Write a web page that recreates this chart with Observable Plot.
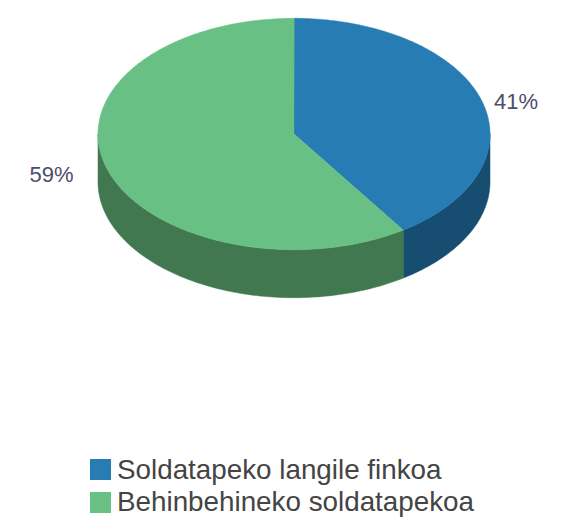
<!DOCTYPE html>
<html>
<head>
<meta charset="utf-8">
<script src="https://cdn.jsdelivr.net/npm/d3@7"></script>
<script src="https://cdn.jsdelivr.net/npm/@observablehq/plot@0.6"></script>
<style>
  html, body { margin: 0; padding: 0; background: #fff; }
  body { width: 566px; overflow: hidden; }
  svg { display: block; }
  #legend { margin-left: 90px; font-family: "Liberation Sans", Arial, sans-serif; font-size: 27.8px; color: #444; line-height: 32.4px; }
  #legend div { display: flex; align-items: center; height: 32.4px; white-space: nowrap; }
  #legend i { display: block; width: 21px; height: 21px; margin-right: 6px; }
</style>
</head>
<body>
<div id="chart"></div>
<div id="legend"></div>
<script>
const categories = ["Soldatapeko langile finkoa", "Behinbehineko soldatapekoa"];
const shares = [40.6, 59.4];
const labels = ["41%", "59%"];
const topColors = ["#267cb3", "#68c085"];
const sideColors = ["#164d70", "#41784f"];
const depth = 0.415; // thickness in units of the vertical radius

const total = d3.sum(shares);
const starts = d3.cumsum([0, ...shares]).map((v) => (v / total) * 360);
const rad = (a) => (a * Math.PI) / 180;
const px = (a) => Math.sin(rad(a));
const py = (a) => Math.cos(rad(a));
const arc = (a0, a1) => {
  const n = Math.max(2, Math.ceil(Math.abs(a1 - a0)));
  return d3.range(n + 1).map((i) => a0 + ((a1 - a0) * i) / n);
};

const slices = categories.map((name, i) => {
  const a0 = starts[i], a1 = starts[i + 1];
  const top = [[0, 0], ...arc(a0, a1).map((a) => [px(a), py(a)])];
  // the visible wall is the front half of the rim (90°–270° clockwise from the top)
  const w0 = Math.max(a0, 90), w1 = Math.min(a1, 270);
  const rim = arc(w0, w1);
  const wall = [
    ...rim.map((a) => [px(a), py(a)]),
    ...rim.slice().reverse().map((a) => [px(a), py(a) - depth])
  ];
  return { name, i, top, wall, mid: (a0 + a1) / 2 };
});

const polygon = (pts, color) =>
  Plot.line(pts, { x: "0", y: "1", fill: color, stroke: color, strokeWidth: 0.5, curve: "linear-closed" });

const labelStyle = [
  { dx: 12.5, dy: 2, textAnchor: "start" },
  { dx: -33, dy: 7, textAnchor: "end" }
];

const plot = Plot.plot({
  width: 566,
  height: 453.5,
  margin: 0,
  x: { domain: [-1, 1], range: [97.5, 489.5], axis: null },
  y: { domain: [-1, 1], range: [249.2, 17.8], axis: null },
  marks: [
    ...slices.map((s) => polygon(s.wall, sideColors[s.i])),
    ...slices.map((s) => polygon(s.top, topColors[s.i])),
    ...slices.map((s) =>
      Plot.text([s], {
        x: (d) => px(d.mid),
        y: (d) => py(d.mid),
        text: () => labels[s.i],
        fontSize: 22,
        fontFamily: "Liberation Sans, Arial, sans-serif",
        fill: "#4d4d6b",
        lineAnchor: "middle",
        ...labelStyle[s.i]
      })
    )
  ]
});
document.getElementById("chart").append(plot);

const legend = d3.select("#legend");
categories.forEach((name, i) => {
  const row = legend.append("div");
  row.append("i").style("background", topColors[i]);
  row.append("span").text(name);
});
</script>
</body>
</html>
